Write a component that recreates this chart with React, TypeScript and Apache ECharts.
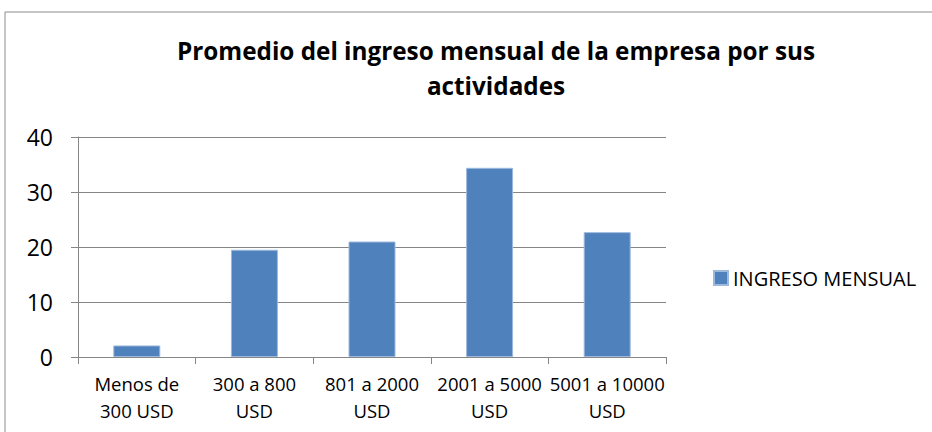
import React, { useEffect, useRef } from "react";
import * as echarts from "echarts";

const categories = ["Menos de\n300 USD", "300 a 800\nUSD", "801 a 2000\nUSD", "2001 a 5000\nUSD", "5001 a 10000\nUSD"];
const values = [2.1, 19.5, 21.0, 34.4, 22.7];
const seriesName = "INGRESO MENSUAL";
const titleText = "Promedio del ingreso mensual de la empresa por sus\nactividades";

const FONT = "'Open Sans', sans-serif";

export default function App() {
  const ref = useRef<HTMLDivElement>(null);
  useEffect(() => {
    if (!ref.current) return;
    const chart = echarts.init(ref.current, undefined, { renderer: "svg" });
    chart.setOption({
      animation: false,
      backgroundColor: "#ffffff",
      graphic: [
        {
          type: "rect",
          shape: { x: 5, y: 12, width: 940, height: 430 },
          style: { fill: "none", stroke: "#8c8c8c", lineWidth: 1 },
          silent: true,
        },
      ],
      title: {
        text: titleText,
        left: 491,
        top: 28,
        textAlign: "center",
        textStyle: {
          fontFamily: FONT,
          fontWeight: "bold",
          fontSize: 24.3,
          color: "#000",
          lineHeight: 35,
        },
      },
      legend: {
        data: [seriesName],
        left: 708,
        top: 263,
        itemWidth: 14,
        itemHeight: 14,
        itemGap: 6,
        icon: "rect",
        textStyle: { fontFamily: FONT, fontSize: 20, color: "#000" },
      },
      grid: { left: 78, right: 266, top: 137, bottom: 75, containLabel: false },
      xAxis: {
        type: "category",
        data: categories,
        axisLine: { lineStyle: { color: "#868686", width: 1 } },
        axisTick: { show: true, alignWithLabel: false, length: 7, lineStyle: { color: "#868686" } },
        axisLabel: {
          fontFamily: FONT,
          fontSize: 18.5,
          color: "#000",
          lineHeight: 27,
          margin: 13,
          interval: 0,
        },
      },
      yAxis: {
        type: "value",
        min: 0,
        max: 40,
        interval: 10,
        axisLine: { show: true, lineStyle: { color: "#868686", width: 1 } },
        axisTick: { show: true, length: 7, lineStyle: { color: "#868686" } },
        splitLine: { lineStyle: { color: "#868686", width: 1 } },
        axisLabel: { fontFamily: FONT, fontSize: 23, color: "#000", margin: 25 },
      },
      series: [
        {
          name: seriesName,
          type: "bar",
          data: values,
          barWidth: 47,
          itemStyle: { color: "#4F81BD", borderColor: "#9DB9DC", borderWidth: 1 },
        },
      ],
    });
    return () => chart.dispose();
  }, []);
  return <div ref={ref} style={{ width: 932, height: 432, position: "fixed", left: 0, top: 0 }} />;
}
